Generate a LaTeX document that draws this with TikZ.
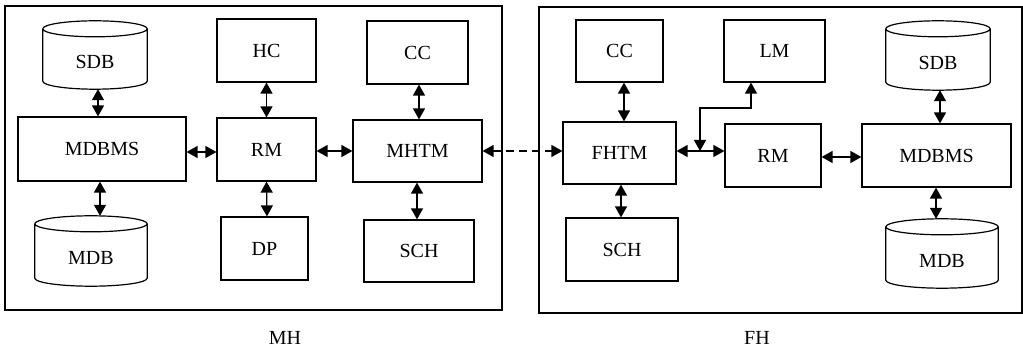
\documentclass[tikz,border=0pt]{standalone}
\usepackage{fontspec}
\setmainfont{Liberation Serif}
\usetikzlibrary{arrows.meta,calc}

\tikzset{
  lbl/.style={font=\fontsize{20pt}{24pt}\selectfont},
  box/.style={lbl, draw, rectangle, line width=1.2pt, inner sep=0pt},
  host/.style={draw, rectangle, line width=1.4pt, inner sep=0pt},
  db/.style={rectangle, inner sep=0pt},
  dbtext/.style={lbl, label={[lbl, yshift=-7pt]center:#1}},
  tip/.tip={Triangle[length=11pt,width=12pt]},
  link/.style={line width=1.3pt, tip-tip},
  remote/.style={link, dash pattern=on 8pt off 5pt},
}

\begin{document}
\begin{tikzpicture}[x=1pt,y=1pt]
\useasboundingbox (0,0) rectangle (1023,-352);

% ---------- host MH ----------
\node[host, minimum width=497pt, minimum height=304pt] (mh) at (253.5,-158) {};
\node[lbl] (mhname) at (285,-338) {MH};

\node[db, minimum width=104pt, minimum height=68pt, dbtext=SDB] (sdbL) at (95,-55) {};
\node[box, minimum width=168pt, minimum height=64pt] (mdbmsL) at (102,-149) {MDBMS};
\node[db, minimum width=112pt, minimum height=70pt, dbtext=MDB] (mdbL) at (91,-251) {};
\node[box, minimum width=99pt, minimum height=63pt] (hcL) at (266.5,-50.5) {HC};
\node[box, minimum width=99pt, minimum height=63pt] (rmL) at (266.5,-149.5) {RM};
\node[box, minimum width=87pt, minimum height=63pt] (dpL) at (264.5,-248.5) {DP};
\node[box, minimum width=101pt, minimum height=63pt] (ccL) at (417.5,-52.5) {CC};
\node[box, minimum width=129pt, minimum height=62pt] (mhtm) at (417.5,-151) {MHTM};
\node[box, minimum width=110pt, minimum height=62pt] (schL) at (419,-251) {SCH};

% ---------- host FH ----------
\node[host, minimum width=483pt, minimum height=306pt] (fh) at (780.5,-160) {};
\node[lbl] (fhname) at (757,-338) {FH};

\node[box, minimum width=87pt, minimum height=62pt] (ccR) at (619.5,-51) {CC};
\node[box, minimum width=101pt, minimum height=62pt] (lm) at (774.5,-51) {LM};
\node[db, minimum width=104pt, minimum height=69pt, dbtext=SDB] (sdbR) at (938,-55.5) {};
\node[box, minimum width=113pt, minimum height=62pt] (fhtm) at (619.5,-153) {FHTM};
\node[box, minimum width=96pt, minimum height=63pt] (rmR) at (773,-155.5) {RM};
\node[box, minimum width=149pt, minimum height=63pt] (mdbmsR) at (936.5,-155.5) {MDBMS};
\node[box, minimum width=112pt, minimum height=63pt] (schR) at (622,-249.5) {SCH};
\node[db, minimum width=112pt, minimum height=69pt, dbtext=MDB] (mdbR) at (942,-253.5) {};

% database cylinders
\foreach \db in {sdbL,mdbL,sdbR,mdbR}{
  \draw[line width=1.2pt] let \p1=(\db.north west), \p2=(\db.south east), \n1={(\x2-\x1)/2} in
    (\x1,\y1-8pt) -- (\x1,\y2+8pt)
      arc[start angle=180, end angle=360, x radius=\n1, y radius=8pt]
      -- (\x2,\y1-8pt)
    (\x1,\y1-8pt) arc[start angle=180, end angle=-180, x radius=\n1, y radius=8pt];
}

% ---------- links in MH ----------
\draw[link] ([xshift=3pt]sdbL.south) -- ([xshift=-4pt]mdbmsL.north);
\draw[link] ([xshift=-2pt]mdbmsL.south) -- ([xshift=9pt]mdbL.north);
\draw[link] ([yshift=-3pt]mdbmsL.east) -- ([yshift=-3pt]mdbmsL.east -| rmL.west);
\draw[link] (hcL.south) -- (rmL.north);
\draw[link] (rmL.south) -- ([xshift=2.5pt]dpL.north);
\draw[link] ([yshift=-1.5pt]rmL.east) -- ([yshift=-1.5pt]rmL.east -| mhtm.west);
\draw[link] ([xshift=1.5pt]ccL.south) -- ([xshift=1.5pt]mhtm.north);
\draw[link] ([xshift=-0.5pt]mhtm.south) -- ([xshift=-2pt]schL.north);

% ---------- link between the hosts ----------
\draw[remote] (mhtm.east) -- (mhtm.east -| fhtm.west);

% ---------- links in FH ----------
\draw[link] ([xshift=4.5pt]ccR.south) -- ([xshift=4.5pt]fhtm.north);
\draw[link] ([xshift=1.5pt]fhtm.south) -- ([xshift=-1pt]schR.north);
\draw[link] ([yshift=2pt]fhtm.east) -- ([yshift=2pt]fhtm.east -| rmR.west);
\coordinate (fork) at ([yshift=2pt]fhtm.east -| 700,0);
\coordinate (bend) at (751,-108);
\draw[link] (fork) |- (bend) -- (bend |- lm.south);
\draw[link] ([yshift=-1.5pt]rmR.east) -- ([yshift=-1.5pt]rmR.east -| mdbmsR.west);
\draw[link] ([xshift=2pt]sdbR.south) -- ([xshift=3.5pt]mdbmsR.north);
\draw[link] ([xshift=-0.5pt]mdbmsR.south) -- ([xshift=-6pt]mdbR.north);
\end{tikzpicture}
\end{document}
